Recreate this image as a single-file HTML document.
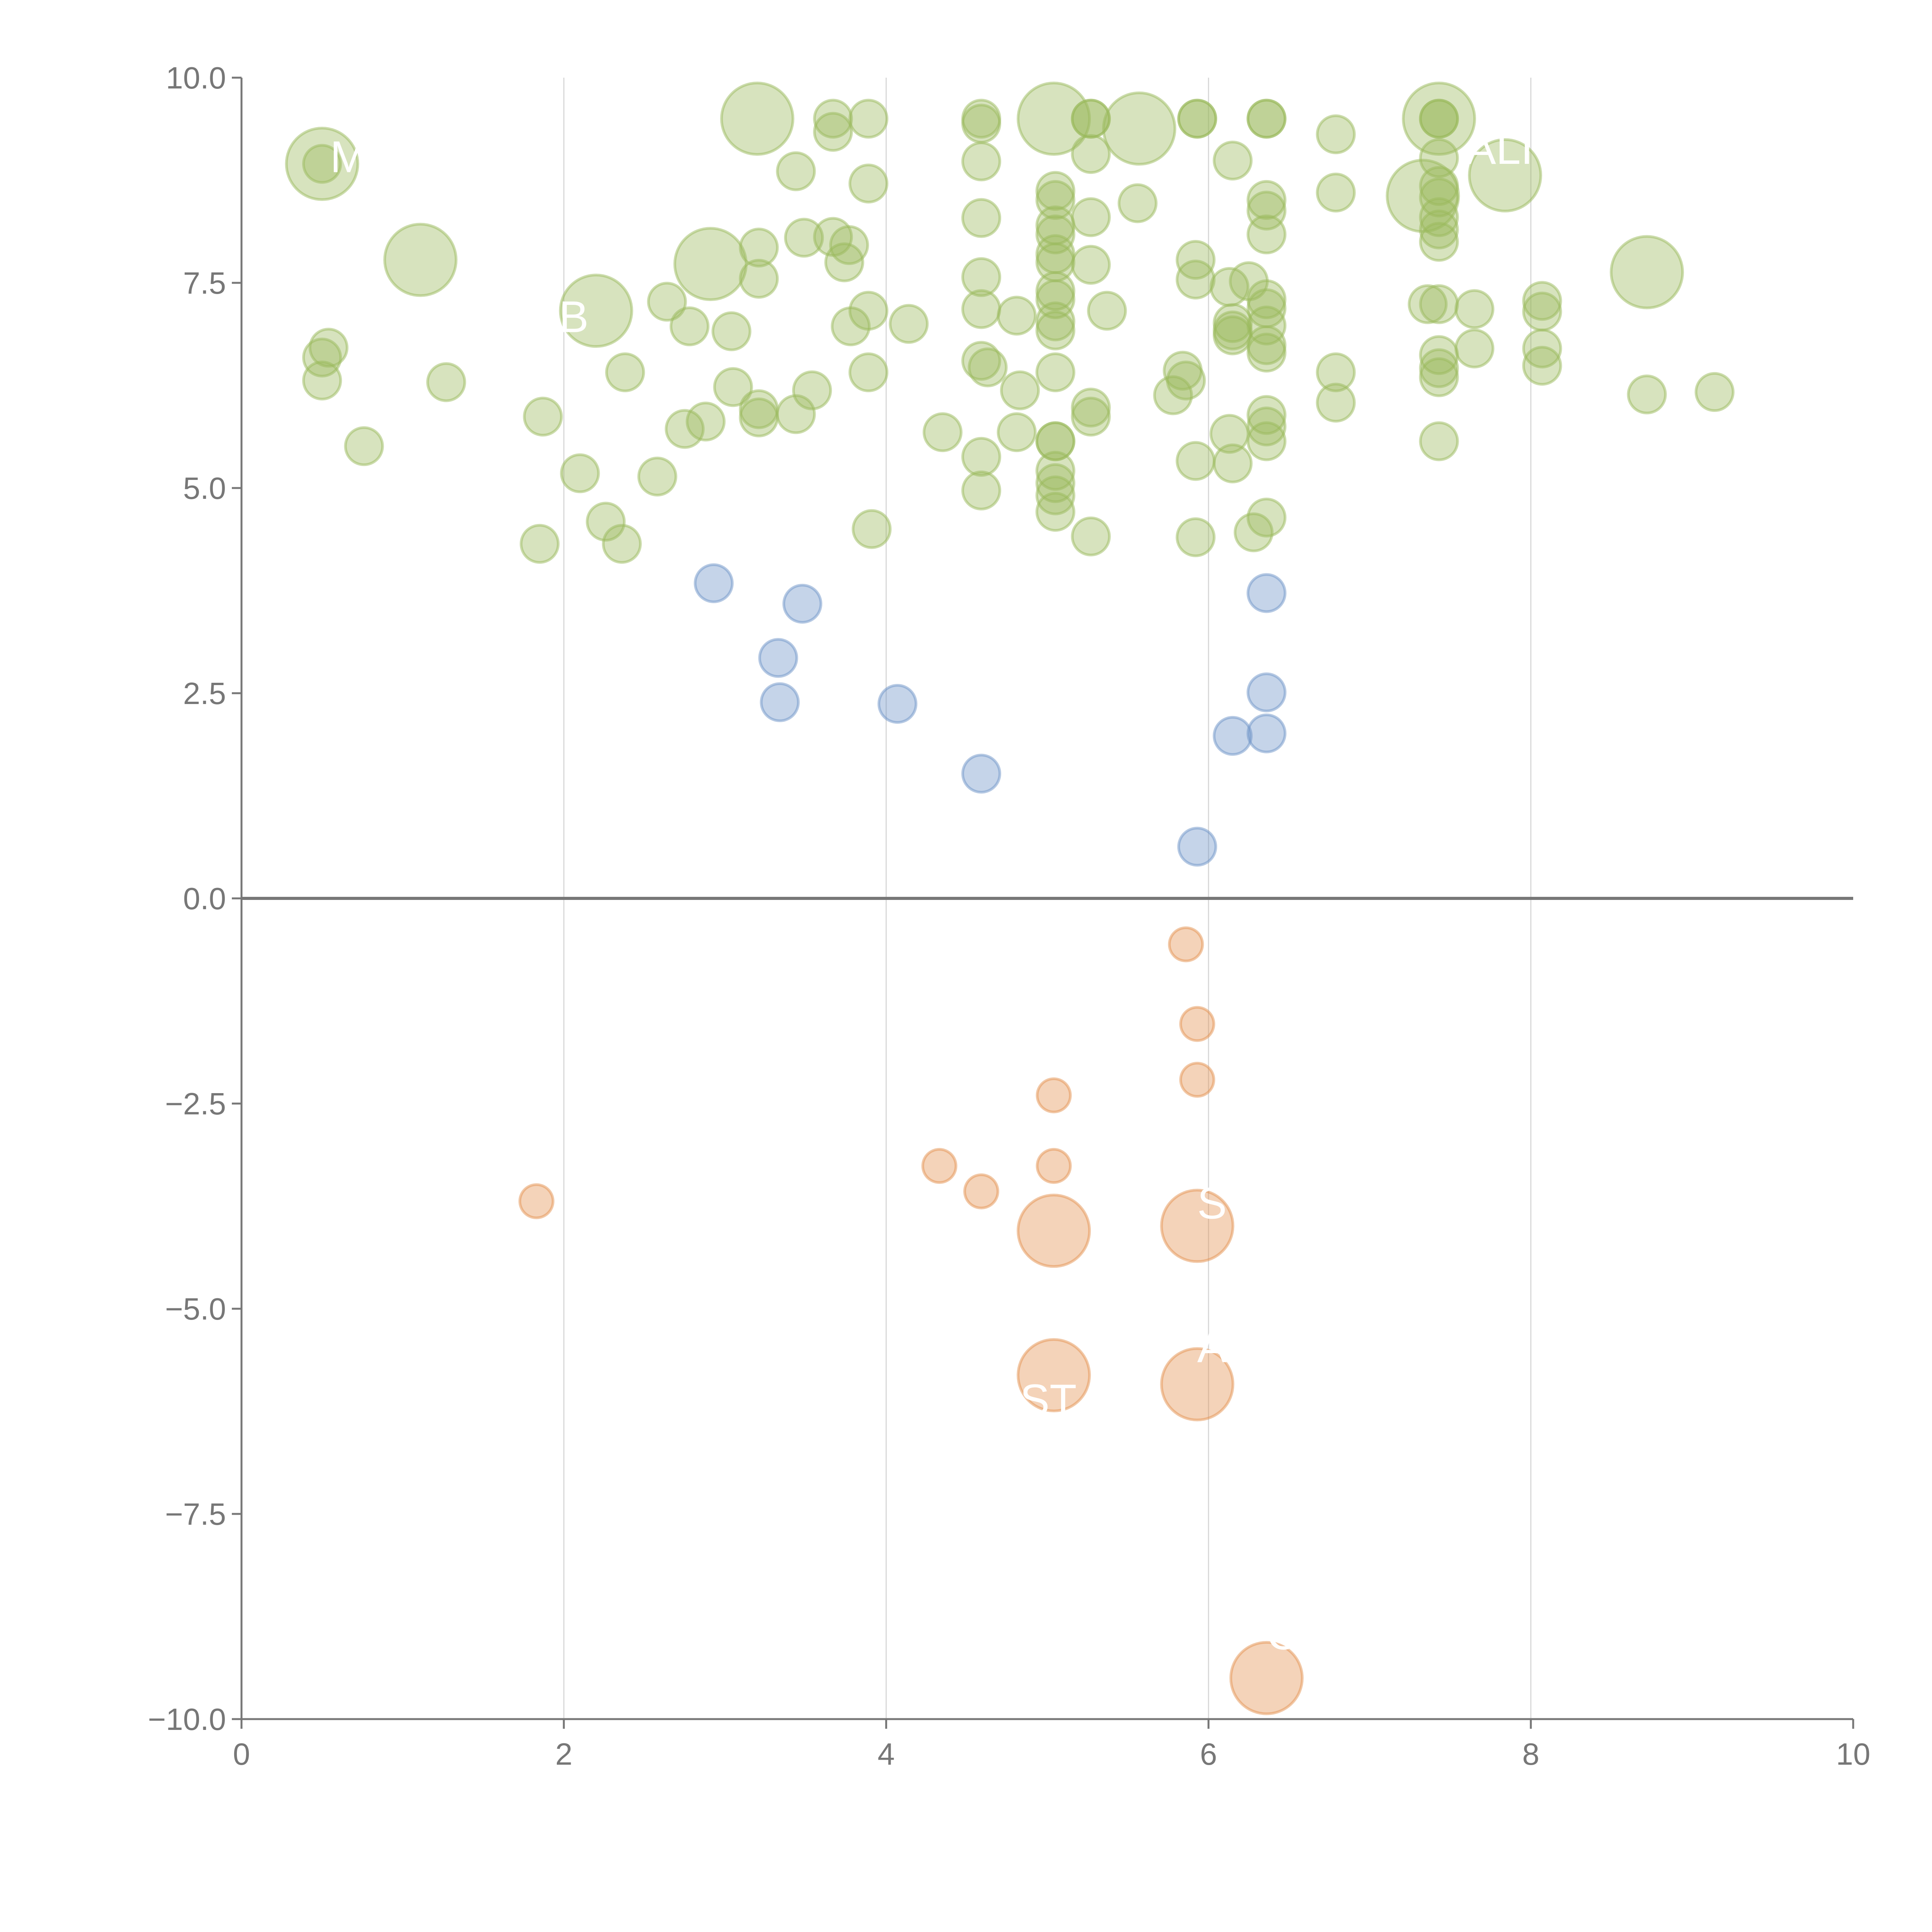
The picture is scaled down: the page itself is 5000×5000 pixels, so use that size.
<!DOCTYPE html>
<html><head><meta charset="utf-8"><style>
html,body{margin:0;padding:0;background:#fff}
svg{display:block}
text{font-family:"Liberation Sans",sans-serif}
</style></head><body>
<svg id="chart" width="5000" height="5000" viewBox="0 0 5000 5000" xmlns="http://www.w3.org/2000/svg">
<g id="grid"></g>
<g id="axes"></g>
<g id="marks"></g>
<g id="labels"></g>
</svg>
<script>
const xTicks = [0, 2, 4, 6, 8, 10];
const yTicks = [10, 7.5, 5, 2.5, 0, -2.5, -5, -7.5, -10];
const xTickLabels = ["0", "2", "4", "6", "8", "10"];
const yTickLabels = ["10.0", "7.5", "5.0", "2.5", "0.0", "\u22122.5", "\u22125.0", "\u22127.5", "\u221210.0"];
// [x, y, size]
const greenPoints = [
[0.50,8.95,37],[0.50,8.95,10],[1.11,7.78,37],[0.54,6.71,10],[0.50,6.59,10],[0.50,6.31,10],[1.27,6.29,10],[0.76,5.51,10],
[1.87,5.87,10],[1.85,4.32,10],[2.10,5.18,10],[2.26,4.59,10],[2.36,4.32,10],[2.38,6.41,10],[2.20,7.16,37],[2.58,5.14,10],
[2.64,7.27,10],[2.78,6.97,10],[2.75,5.72,10],[2.88,5.81,10],[2.91,7.73,37],[3.04,6.91,10],[3.05,6.23,10],[3.21,7.93,10],
[3.21,7.55,10],[3.21,5.96,10],[3.21,5.86,10],[3.20,9.50,37],[3.44,8.86,10],[3.44,5.90,10],[3.49,8.05,10],[3.54,6.19,10],
[3.67,9.50,10],[3.67,9.34,10],[3.67,8.06,10],[3.74,7.75,10],[3.77,7.96,10],[3.78,6.97,10],[3.89,9.50,10],[3.89,8.71,10],
[3.89,7.16,10],[3.89,6.41,10],[3.91,4.50,10],[4.14,7.00,10],[4.35,5.68,10],[4.59,9.50,10],[4.59,9.44,10],[4.59,8.98,10],
[4.59,8.29,10],[4.59,7.57,10],[4.59,7.18,10],[4.59,6.55,10],[4.63,6.47,10],[4.59,5.38,10],[4.59,4.97,10],[4.81,7.10,10],
[4.83,6.19,10],[4.81,5.68,10],[5.04,9.50,37],
[5.05,8.62,10],[5.05,8.51,10],[5.05,8.20,10],[5.05,8.09,10],[5.05,7.85,10],[5.05,7.75,10],[5.05,7.40,10],[5.05,7.30,10],
[5.05,7.03,10],[5.05,6.92,10],[5.05,6.41,10],[5.05,5.57,10],[5.05,5.57,10],[5.05,5.21,10],[5.05,5.06,10],[5.05,4.91,10],[5.05,4.71,10],
[5.27,9.50,10],[5.27,9.50,10],[5.27,9.07,10],[5.27,8.30,10],[5.27,7.72,10],[5.27,5.98,10],[5.27,5.87,10],[5.27,4.41,10],
[5.37,7.16,10],[5.57,9.38,37],[5.56,8.47,10],[5.78,6.13,10],[5.84,6.43,10],[5.86,6.31,10],[5.93,9.50,10],[5.93,9.50,10],
[5.92,7.78,10],[5.92,7.54,10],[5.92,5.33,10],[5.92,4.40,10],[6.15,8.99,10],[6.13,7.45,10],[6.25,7.52,10],[6.15,6.92,10],
[6.15,6.86,10],[6.15,7.01,10],[6.13,5.66,10],[6.15,5.30,10],[6.28,4.46,10],
[6.36,9.50,10],[6.36,9.50,10],[6.36,8.51,10],[6.36,8.38,10],[6.36,8.09,10],[6.36,7.30,10],[6.36,7.19,10],[6.36,6.98,10],
[6.36,6.74,10],[6.36,6.65,10],[6.36,5.89,10],[6.36,5.75,10],[6.36,5.57,10],[6.36,4.64,10],
[6.79,9.31,10],[6.79,8.60,10],[6.79,6.41,10],[6.79,6.04,10],
[7.43,9.50,37],[7.43,9.50,10],[7.43,9.50,10],[7.43,9.02,10],[7.43,8.68,10],[7.43,8.54,10],[7.43,8.30,10],[7.43,8.15,10],
[7.43,8.00,10],[7.43,7.24,10],[7.43,6.62,10],[7.43,6.46,10],[7.43,6.35,10],[7.43,5.57,10],[7.33,8.56,37],[7.36,7.24,10],
[7.65,7.18,10],[7.65,6.70,10],[7.84,8.81,37],[8.07,7.28,10],[8.07,7.15,10],[8.07,6.70,10],[8.07,6.49,10],
[8.72,7.63,37],[8.72,6.14,10],[9.14,6.17,10]
];
const bluePoints = [
[2.93,3.84,10],[3.48,3.59,10],[3.33,2.93,10],[3.34,2.39,10],[4.07,2.37,10],[4.59,1.52,10],
[5.93,0.63,10],[6.15,1.98,10],[6.36,3.72,10],[6.36,2.51,10],[6.36,2.01,10]
];
const orangePoints = [
[5.86,-0.56,8],[5.93,-1.53,8],[5.93,-2.21,8],[5.04,-2.40,8],[4.33,-3.26,8],[5.04,-3.26,8],[4.59,-3.57,8],[1.83,-3.69,8],
[5.04,-4.05,37],[5.93,-3.99,37],[5.04,-5.81,37],[5.93,-5.92,37],[6.36,-9.50,37]
];
const labelTexts = ["M","B","ALI","ST","S","A","C"];
const labelX = [0.55, 1.97, 7.60, 4.83, 5.93, 5.93, 6.36];
const labelY = [8.85, 6.90, 8.95, -6.30, -3.90, -5.65, -9.15];

const X0=625, X1=4796, Y0=4449, Y1=201;
const sx = v => X0 + (v-0)/(10-0)*(X1-X0);
const sy = v => Y0 - (v+10)/20*(Y0-Y1);
const rs = s => 15.2*Math.sqrt(s);
const NS="http://www.w3.org/2000/svg";
function mk(tag, attrs, parent){const e=document.createElementNS(NS,tag);for(const k in attrs)e.setAttribute(k,attrs[k]);parent.appendChild(e);return e;}
const grid=document.getElementById('grid'), axes=document.getElementById('axes'), marks=document.getElementById('marks'), labels=document.getElementById('labels');

xTicks.forEach((t,i)=>{
  if(t>0&&t<10){
    const gl=mk('line',{x1:sx(t),x2:sx(t),y1:Y1,y2:Y0,stroke:'#d8d8d8','stroke-width':3},grid);
    
    
  }
  const tk=mk('line',{x1:sx(t),x2:sx(t),y1:Y0,y2:Y0+25,stroke:'#777','stroke-width':5},axes);
  
  
  const tl=mk('text',{x:sx(t),y:Y0+118,'text-anchor':'middle','font-size':80,fill:'#777'},axes);
  tl.textContent=xTickLabels[i];
  
  
});
yTicks.forEach((t,i)=>{
  const tk=mk('line',{x1:X0-25,x2:X0,y1:sy(t),y2:sy(t),stroke:'#777','stroke-width':5},axes);
  
  
  const tl=mk('text',{x:X0-40,y:sy(t)+28,'text-anchor':'end','font-size':80,fill:'#777'},axes);
  tl.textContent=yTickLabels[i];
  
  
});
const ya=mk('line',{x1:X0,x2:X0,y1:Y1,y2:Y0,stroke:'#777','stroke-width':5},axes);


const xa=mk('line',{x1:X0,x2:X1,y1:Y0,y2:Y0,stroke:'#777','stroke-width':5},axes);


const zl=mk('line',{x1:X0,x2:X1,y1:sy(0),y2:sy(0),stroke:'#777','stroke-width':8},axes);



function drawSeries(pts, fill, stroke, name){
  pts.forEach(p=>{
    const c=mk('circle',{cx:sx(p[0]),cy:sy(p[1]),r:rs(p[2]),fill:fill,'fill-opacity':0.4,stroke:stroke,'stroke-opacity':0.5,'stroke-width':7},marks);
    
    
  });
}
drawSeries(greenPoints,'#9aba5c','#9aba5c','green-bubble');
drawSeries(bluePoints,'#6e93c8','#6e93c8','blue-bubble');
drawSeries(orangePoints,'#e3914f','#e3914f','orange-bubble');

labelTexts.forEach((s,i)=>{
  const t=mk('text',{x:sx(labelX[i]),y:sy(labelY[i]),'font-size':115,fill:'#fff'},labels);
  t.textContent=s;
  
  
});
</script>
</body></html>
